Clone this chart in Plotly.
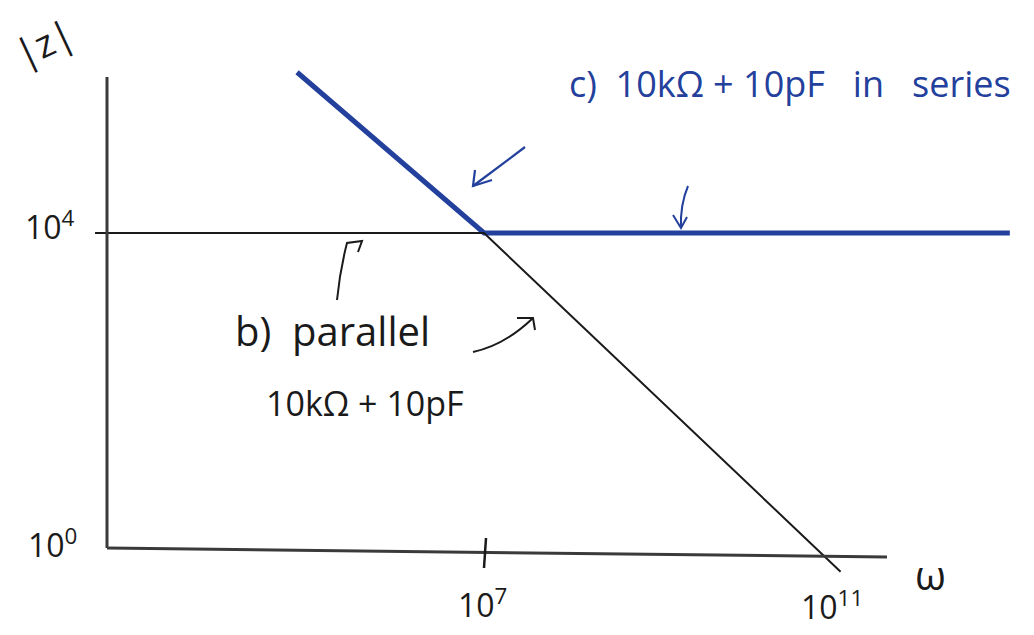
import plotly.graph_objects as go

# |Z| versus angular frequency for 10 kOhm and 10 pF (log-log sketch)
omega_parallel = [3.0e2, 1.0e7, 1.4e11]
z_parallel = [1.0e4, 1.0e4, 0.5]

omega_series = [6.7e4, 1.0e7, 1.3e13]
z_series = [1.1e6, 1.0e4, 1.0e4]

y_tick_labels = ["10<sup>4</sup>", "10<sup>0</sup>"]
x_tick_labels = ["10<sup>7</sup>", "10<sup>11</sup>"]

W, H = 1034, 635
BLUE = "#23409c"
INK = "#1a1a1a"
AXIS = "#3a3a3a"
FONT = "Open Sans"


def px(x, y):
    """Convert pixel position to paper coordinates."""
    return x / W, 1 - y / H


def path_of(points, curve=None):
    """SVG path in paper units; optional quadratic control point for the first segment."""
    pts = [px(*p) for p in points]
    d = f"M{pts[0][0]:.5f},{pts[0][1]:.5f}"
    rest = pts[1:]
    if curve is not None:
        cx, cy = px(*curve)
        d += f" Q{cx:.5f},{cy:.5f} {rest[0][0]:.5f},{rest[0][1]:.5f}"
        rest = rest[1:]
    for x, y in rest:
        d += f" L{x:.5f},{y:.5f}"
    return d


fig = go.Figure()

fig.add_trace(go.Scatter(
    x=omega_series, y=z_series, mode="lines",
    line=dict(color=BLUE, width=5),
    name="c) series", hoverinfo="skip",
))
fig.add_trace(go.Scatter(
    x=omega_parallel, y=z_parallel, mode="lines",
    line=dict(color=INK, width=2),
    name="b) parallel", hoverinfo="skip",
))

shapes = []


def stroke(points, color, width, curve=None):
    shapes.append(dict(type="path", xref="paper", yref="paper",
                       path=path_of(points, curve),
                       line=dict(color=color, width=width)))


# axes and the 10^7 tick
stroke([(107, 77), (107, 548)], AXIS, 3)
stroke([(107, 548), (887, 557)], AXIS, 3)
stroke([(486, 538), (484, 568)], INK, 2.5)

# pointer arrows (shaft, then the two barbs of the head)
stroke([(525, 147), (473, 186)], BLUE, 2.2)
stroke([(475, 170), (473, 186), (492, 180)], BLUE, 2.2)
stroke([(688, 186), (681, 228)], BLUE, 2, curve=(680, 205))
stroke([(673, 215), (681, 228), (687, 217)], BLUE, 2)
stroke([(337, 300), (347, 243), (362, 241), (358, 252)], INK, 2, curve=(340, 270))
stroke([(473, 352), (533, 318)], INK, 2, curve=(505, 345))
stroke([(517, 318), (533, 318), (535, 330)], INK, 2)

annotations = []


def label(text, x, y, size, color=INK, angle=0):
    ax_, ay_ = px(x, y)
    annotations.append(dict(text=text, x=ax_, y=ay_, xref="paper", yref="paper",
                            showarrow=False, textangle=angle,
                            font=dict(family=FONT, size=size, color=color),
                            xanchor="center", yanchor="middle"))


label("|z|", 44, 42, 38, angle=-25)
label(y_tick_labels[0], 50, 225, 32)
label(y_tick_labels[1], 52, 543, 32)
label(x_tick_labels[0], 482, 603, 32)
label(x_tick_labels[1], 832, 605, 32)
label("ω", 930, 574, 40)
label("c)  10kΩ + 10pF   in   series", 790, 84, 36, color=BLUE)
label("b)  parallel", 332, 330, 40)
label("10kΩ + 10pF", 365, 403, 34)

fig.update_layout(
    width=W, height=H,
    margin=dict(l=0, r=0, t=0, b=0, pad=0),
    paper_bgcolor="white", plot_bgcolor="white",
    showlegend=False,
    xaxis=dict(type="log", range=[1.372, 13.395], visible=False, domain=[0, 1]),
    yaxis=dict(type="log", range=[-1.105, 6.959], visible=False, domain=[0, 1]),
    shapes=shapes, annotations=annotations,
)

fig.write_html("out.html")
